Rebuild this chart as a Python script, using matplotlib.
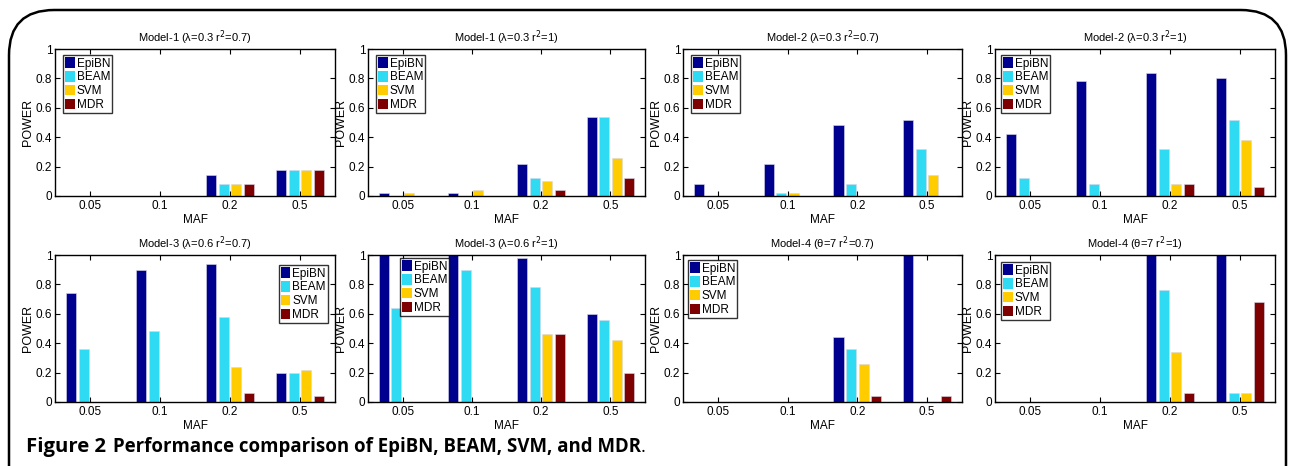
import matplotlib
matplotlib.use("Agg")
import matplotlib.pyplot as plt
import numpy as np
from matplotlib.patches import FancyBboxPatch, Patch

plt.rcParams['font.family'] = ['Liberation Sans', 'DejaVu Sans']

categories = ["0.05", "0.1", "0.2", "0.5"]
series_names = ["EpiBN", "BEAM", "SVM", "MDR"]
colors = ["#00008F", "#2FDBF2", "#FFCC00", "#7F0000"]

titles = [
    "Model-1 (λ=0.3 r$^2$=0.7)",
    "Model-1 (λ=0.3 r$^2$=1)",
    "Model-2 (λ=0.3 r$^2$=0.7)",
    "Model-2 (λ=0.3 r$^2$=1)",
    "Model-3 (λ=0.6 r$^2$=0.7)",
    "Model-3 (λ=0.6 r$^2$=1)",
    "Model-4 (θ=7 r$^2$=0.7)",
    "Model-4 (θ=7 r$^2$=1)",
]

# values per panel: rows = EpiBN, BEAM, SVM, MDR ; columns = MAF categories
m1_r07 = [[0, 0, 0.14, 0.18],
          [0, 0, 0.08, 0.18],
          [0, 0, 0.08, 0.18],
          [0, 0, 0.08, 0.18]]
m1_r1 = [[0.02, 0.02, 0.22, 0.54],
         [0, 0, 0.12, 0.54],
         [0.02, 0.04, 0.10, 0.26],
         [0, 0, 0.04, 0.12]]
m2_r07 = [[0.08, 0.22, 0.48, 0.52],
          [0, 0.02, 0.08, 0.32],
          [0, 0.02, 0, 0.14],
          [0, 0, 0, 0]]
m2_r1 = [[0.42, 0.78, 0.84, 0.80],
         [0.12, 0.08, 0.32, 0.52],
         [0, 0, 0.08, 0.38],
         [0, 0, 0.08, 0.06]]
m3_r07 = [[0.74, 0.90, 0.94, 0.20],
          [0.36, 0.48, 0.58, 0.20],
          [0, 0, 0.24, 0.22],
          [0, 0, 0.06, 0.04]]
m3_r1 = [[1.0, 1.0, 0.98, 0.60],
         [0.64, 0.90, 0.78, 0.56],
         [0, 0, 0.46, 0.42],
         [0, 0, 0.46, 0.20]]
m4_r07 = [[0, 0, 0.44, 1.0],
          [0, 0, 0.36, 0],
          [0, 0, 0.26, 0],
          [0, 0, 0.04, 0.04]]
m4_r1 = [[0, 0, 1.0, 1.0],
         [0, 0, 0.76, 0.06],
         [0, 0, 0.34, 0.06],
         [0, 0, 0.06, 0.68]]
panels = [m1_r07, m1_r1, m2_r07, m2_r1, m3_r07, m3_r1, m4_r07, m4_r1]

W, H = 1292, 466
fig = plt.figure(figsize=(W / 100, H / 100), dpi=100)

# frame
frame = FancyBboxPatch((9 / W, -0.2), (1286 - 9) / W, (466 - 10) / H + 0.2,
                       boxstyle="round,pad=0,rounding_size=0.035",
                       transform=fig.transFigure, fill=False,
                       edgecolor="black", linewidth=1.8, mutation_aspect=W / H)
fig.patches.append(frame)

lefts = [55, 368, 683, 995]
widths = [280, 277, 279, 280]
row_tops = [49, 255]
ax_h = 147

# legend anchors (loc, x, y) in axes fraction
leg_specs = [
    ("upper left", 8 / 280, 1 - 6 / 147),
    ("upper left", 8 / 277, 1 - 6 / 147),
    ("upper left", 8 / 279, 1 - 6 / 147),
    ("upper left", 6 / 280, 1 - 6 / 147),
    ("upper right", 1 - 7 / 280, 1 - 10 / 147),
    ("upper left", 32 / 277, 1 - 3 / 147),
    ("upper left", 5 / 279, 1 - 5 / 147),
    ("upper left", 6 / 280, 1 - 7 / 147),
]

x = np.arange(1, len(categories) + 1)
offsets = [-0.27, -0.09, 0.09, 0.27]
bw = 0.145

for i, data in enumerate(panels):
    r, c = divmod(i, 4)
    top = row_tops[r]
    ax = fig.add_axes([lefts[c] / W, 1 - (top + ax_h) / H, widths[c] / W, ax_h / H])
    for s in range(4):
        ax.bar(x + offsets[s], data[s], width=bw, color=colors[s],
               edgecolor="#d8d8e8", linewidth=0.4, label=series_names[s])
    ax.set_xlim(0.5, 4.5)
    ax.set_ylim(0, 1)
    ax.set_xticks(x)
    ax.set_xticklabels(categories)
    ax.set_yticks([0, 0.2, 0.4, 0.6, 0.8, 1])
    ax.set_yticklabels(["0", "0.2", "0.4", "0.6", "0.8", "1"])
    ax.tick_params(direction="in", top=True, right=True, length=3.5,
                   width=0.8, labelsize=8.5, pad=3)
    ax.tick_params(axis="y", pad=2)
    for sp in ax.spines.values():
        sp.set_linewidth(1.0)
    ax.set_title(titles[i], fontsize=8, pad=5)
    ax.set_xlabel("MAF", fontsize=8.5, labelpad=1)
    ax.set_ylabel("POWER", fontsize=9, labelpad=1)
    loc, lx, ly = leg_specs[i]
    handles = [Patch(facecolor=colors[s], edgecolor="none") for s in range(4)]
    leg = ax.legend(handles, series_names, loc=loc, bbox_to_anchor=(lx, ly),
                    borderaxespad=0, fontsize=8.5, frameon=True, fancybox=False,
                    handlelength=0.8, handleheight=1.0, handletextpad=0.15,
                    labelspacing=0.12, borderpad=0.2)
    leg.get_frame().set_edgecolor("black")
    leg.get_frame().set_linewidth(1.0)

# caption
cap_y = 1 - 447 / H
fig.canvas.draw()
r_ = fig.canvas.get_renderer()
t1 = fig.text(26 / W, cap_y, "Figure 2", fontsize=14.6, fontweight="bold",
              family=["Open Sans", "DejaVu Sans"], va="center")
bb = t1.get_window_extent(r_)
t2 = fig.text((bb.x1 + 7) / W, cap_y, "Performance comparison of EpiBN, BEAM, SVM, and MDR",
              fontsize=13.4, fontweight="bold", family=["Open Sans", "DejaVu Sans"], va="center")
bb2 = t2.get_window_extent(r_)
fig.text(bb2.x1 / W, cap_y, ".", fontsize=13, family=["Open Sans", "DejaVu Sans"], va="center")

fig.savefig("out.png", dpi=100)
